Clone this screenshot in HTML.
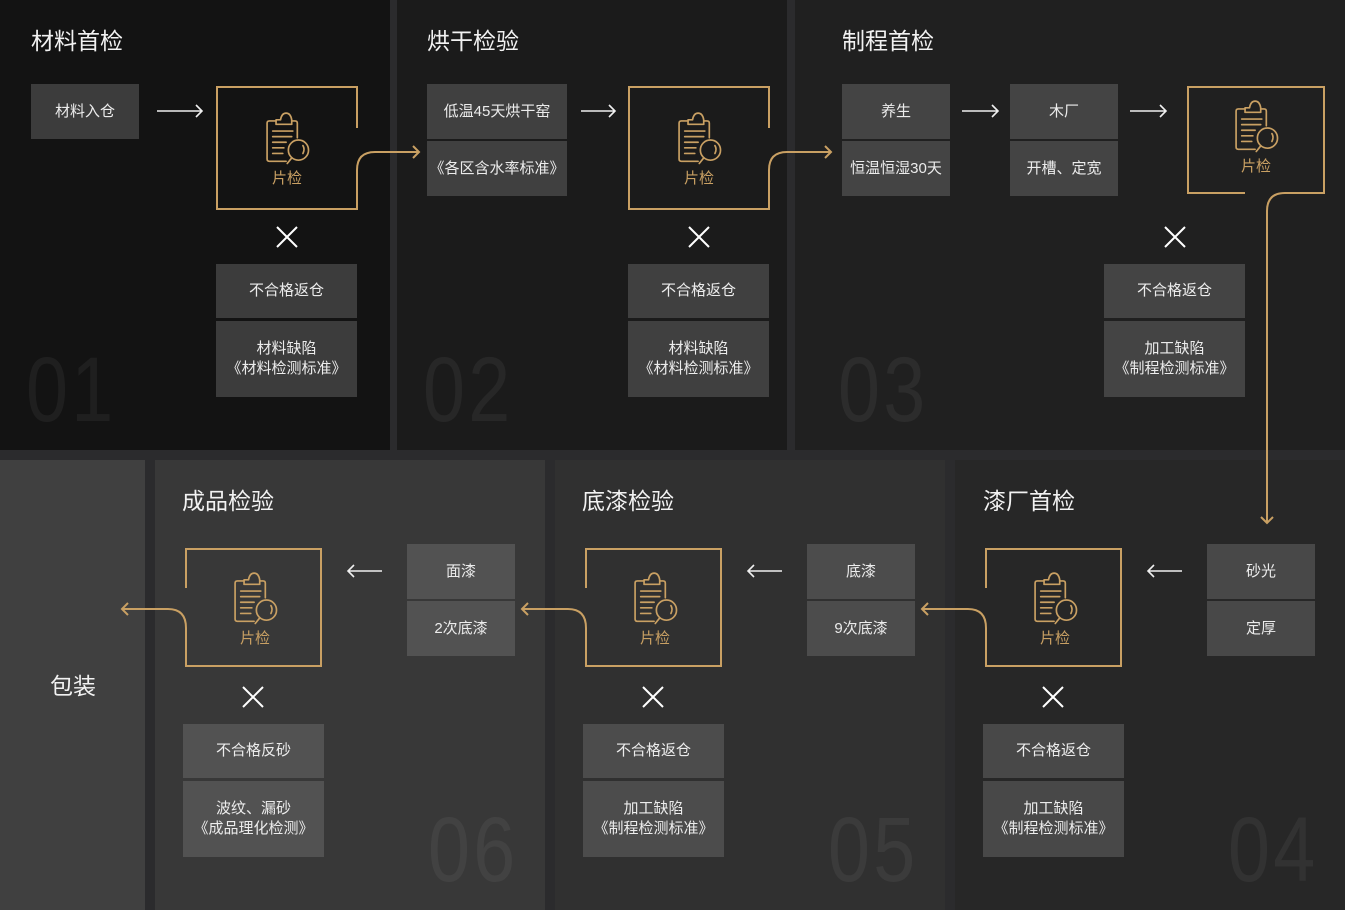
<!DOCTYPE html>
<html><head><meta charset="utf-8"><style>
*{margin:0;padding:0;box-sizing:border-box}
body{width:1345px;height:910px;background:#2b2b2d;position:relative;overflow:hidden;font-family:"Liberation Sans","Noto Sans CJK SC",sans-serif;color:#ececec}
.p{position:absolute}
.t{position:absolute;font-size:23px;color:#f2f2f2;line-height:30px;white-space:nowrap}
.b{position:absolute;display:flex;align-items:center;justify-content:center;text-align:center;font-size:15px;line-height:20px;color:#ececec;white-space:nowrap}
.n{position:absolute;font-size:92px;line-height:92px;color:rgba(255,255,255,0.055);transform:scaleX(0.82);transform-origin:left top;letter-spacing:4px}
.g{position:absolute;font-size:15px;color:#c9a063;width:60px;text-align:center}
svg{position:absolute;left:0;top:0}
</style></head><body>
<div class="p" style="left:0;top:0;width:390px;height:450px;background:#131313"></div>
<div class="p" style="left:397px;top:0;width:390px;height:450px;background:#1b1b1b"></div>
<div class="p" style="left:795px;top:0;width:550px;height:450px;background:#202020"></div>
<div class="p" style="left:0;top:460px;width:145px;height:450px;background:#404040"></div>
<div class="p" style="left:155px;top:460px;width:390px;height:450px;background:#383838"></div>
<div class="p" style="left:555px;top:460px;width:390px;height:450px;background:#303030"></div>
<div class="p" style="left:955px;top:460px;width:390px;height:450px;background:#272727"></div>

<div class="n" style="left:26px;top:344px">01</div>
<div class="n" style="left:423px;top:344px">02</div>
<div class="n" style="left:838px;top:344px">03</div>
<div class="n" style="left:1228px;top:804px">04</div>
<div class="n" style="left:828px;top:804px">05</div>
<div class="n" style="left:428px;top:804px">06</div>

<div class="t" style="left:31px;top:26px">材料首检</div>
<div class="t" style="left:427px;top:26px">烘干检验</div>
<div class="t" style="left:842px;top:26px">制程首检</div>
<div class="t" style="left:983px;top:486px">漆厂首检</div>
<div class="t" style="left:582px;top:486px">底漆检验</div>
<div class="t" style="left:182px;top:486px">成品检验</div>
<div class="t" style="left:50px;top:671px">包装</div>

<div class="b" style="left:31px;top:84px;width:108px;height:55px;background:#3c3c3c">材料入仓</div>
<div class="b" style="left:216px;top:264px;width:141px;height:54px;background:#3c3c3c">不合格返仓</div>
<div class="b" style="left:216px;top:321px;width:141px;height:76px;background:#3c3c3c">材料缺陷<br>《材料检测标准》</div>

<div class="b" style="left:427px;top:84px;width:140px;height:55px;background:#404040">低温45天烘干窑</div>
<div class="b" style="left:427px;top:141px;width:140px;height:55px;background:#404040">《各区含水率标准》</div>
<div class="b" style="left:628px;top:264px;width:141px;height:54px;background:#404040">不合格返仓</div>
<div class="b" style="left:628px;top:321px;width:141px;height:76px;background:#404040">材料缺陷<br>《材料检测标准》</div>

<div class="b" style="left:842px;top:84px;width:108px;height:55px;background:#444">养生</div>
<div class="b" style="left:842px;top:141px;width:108px;height:55px;background:#444">恒温恒湿30天</div>
<div class="b" style="left:1010px;top:84px;width:108px;height:55px;background:#444">木厂</div>
<div class="b" style="left:1010px;top:141px;width:108px;height:55px;background:#444">开槽、定宽</div>
<div class="b" style="left:1104px;top:264px;width:141px;height:54px;background:#444">不合格返仓</div>
<div class="b" style="left:1104px;top:321px;width:141px;height:76px;background:#444">加工缺陷<br>《制程检测标准》</div>

<div class="b" style="left:1207px;top:544px;width:108px;height:55px;background:#484848">砂光</div>
<div class="b" style="left:1207px;top:601px;width:108px;height:55px;background:#484848">定厚</div>
<div class="b" style="left:983px;top:724px;width:141px;height:54px;background:#484848">不合格返仓</div>
<div class="b" style="left:983px;top:781px;width:141px;height:76px;background:#484848">加工缺陷<br>《制程检测标准》</div>

<div class="b" style="left:807px;top:544px;width:108px;height:55px;background:#4c4c4c">底漆</div>
<div class="b" style="left:807px;top:601px;width:108px;height:55px;background:#4c4c4c">9次底漆</div>
<div class="b" style="left:583px;top:724px;width:141px;height:54px;background:#4c4c4c">不合格返仓</div>
<div class="b" style="left:583px;top:781px;width:141px;height:76px;background:#4c4c4c">加工缺陷<br>《制程检测标准》</div>

<div class="b" style="left:407px;top:544px;width:108px;height:55px;background:#525252">面漆</div>
<div class="b" style="left:407px;top:601px;width:108px;height:55px;background:#525252">2次底漆</div>
<div class="b" style="left:183px;top:724px;width:141px;height:54px;background:#525252">不合格反砂</div>
<div class="b" style="left:183px;top:781px;width:141px;height:76px;background:#525252">波纹、漏砂<br>《成品理化检测》</div>

<svg width="1345" height="910" viewBox="0 0 1345 910">
<defs>
<g id="ic0" fill="none" stroke="#c9a063" stroke-width="1.5" stroke-linecap="round" stroke-linejoin="round">
<path d="M-8,-17 H-14 Q-16,-17 -16,-15 V17 Q-16,19 -14,19 H1"/>
<path d="M6,-17 H9 Q11,-17 11,-15 V-2"/>
<path d="M-8,-14 V-18 H-4 Q-3,-24 1,-24 Q5,-24 6,-18 H6 V-14 Z"/>
<path d="M-11,-8 H7 M-11,-3 H6 M-11,2 H1 M-11,7 H-1 M-11,12 H-2"/>
<circle cx="12" cy="9" r="9"/>
<path d="M6,16 L2,21"/>
<path d="M16,5 Q18,8 16,12"/>
</g>
<g id="ic"><use href="#ic0" transform="scale(1.12)"/></g>
<g id="x" stroke="#fff" stroke-width="2"><path d="M-10,-10 L10,10 M10,-10 L-10,10"/></g>
</defs>
<g fill="none" stroke="#c9a063" stroke-width="2">
<path d="M357,128 V87 H217 V209 H357 V170 Q357,152 375,152 H419"/>
<path d="M413,146 L419,152 L413,158"/>
<path d="M769,128 V87 H629 V209 H769 V170 Q769,152 787,152 H831"/>
<path d="M825,146 L831,152 L825,158"/>
<path d="M1245,193 H1188 V87 H1324 V193 H1285 Q1267,193 1267,211 V523"/>
<path d="M1261,517 L1267,523 L1273,517"/>
<path d="M986,588 V549 H1121 V666 H986 V628 Q986,609 968,609 H922"/>
<path d="M928,603 L922,609 L928,615"/>
<path d="M586,588 V549 H721 V666 H586 V628 Q586,609 568,609 H522"/>
<path d="M528,603 L522,609 L528,615"/>
<path d="M186,588 V549 H321 V666 H186 V628 Q186,609 168,609 H122"/>
<path d="M128,603 L122,609 L128,615"/>
</g>
<g fill="none" stroke="#f0f0f0" stroke-width="1.6">
<path d="M157,111 H202 M196,105 L202,111 L196,117"/>
<path d="M581,111 H615 M609,105 L615,111 L609,117"/>
<path d="M962,111 H998 M992,105 L998,111 L992,117"/>
<path d="M1130,111 H1166 M1160,105 L1166,111 L1160,117"/>
<path d="M1148,571 H1182 M1154,565 L1148,571 L1154,577"/>
<path d="M748,571 H782 M754,565 L748,571 L754,577"/>
<path d="M348,571 H382 M354,565 L348,571 L354,577"/>
</g>
<use href="#ic" x="285" y="140"/>
<use href="#ic" x="697" y="140"/>
<use href="#ic" x="1254" y="128"/>
<use href="#ic" x="1053" y="600"/>
<use href="#ic" x="653" y="600"/>
<use href="#ic" x="253" y="600"/>
<use href="#x" x="287" y="237"/>
<use href="#x" x="699" y="237"/>
<use href="#x" x="1175" y="237"/>
<use href="#x" x="1053" y="697"/>
<use href="#x" x="653" y="697"/>
<use href="#x" x="253" y="697"/>
</svg>
<div class="g" style="left:257px;top:167px">片检</div>
<div class="g" style="left:669px;top:167px">片检</div>
<div class="g" style="left:1226px;top:155px">片检</div>
<div class="g" style="left:1025px;top:627px">片检</div>
<div class="g" style="left:625px;top:627px">片检</div>
<div class="g" style="left:225px;top:627px">片检</div>
</body></html>
